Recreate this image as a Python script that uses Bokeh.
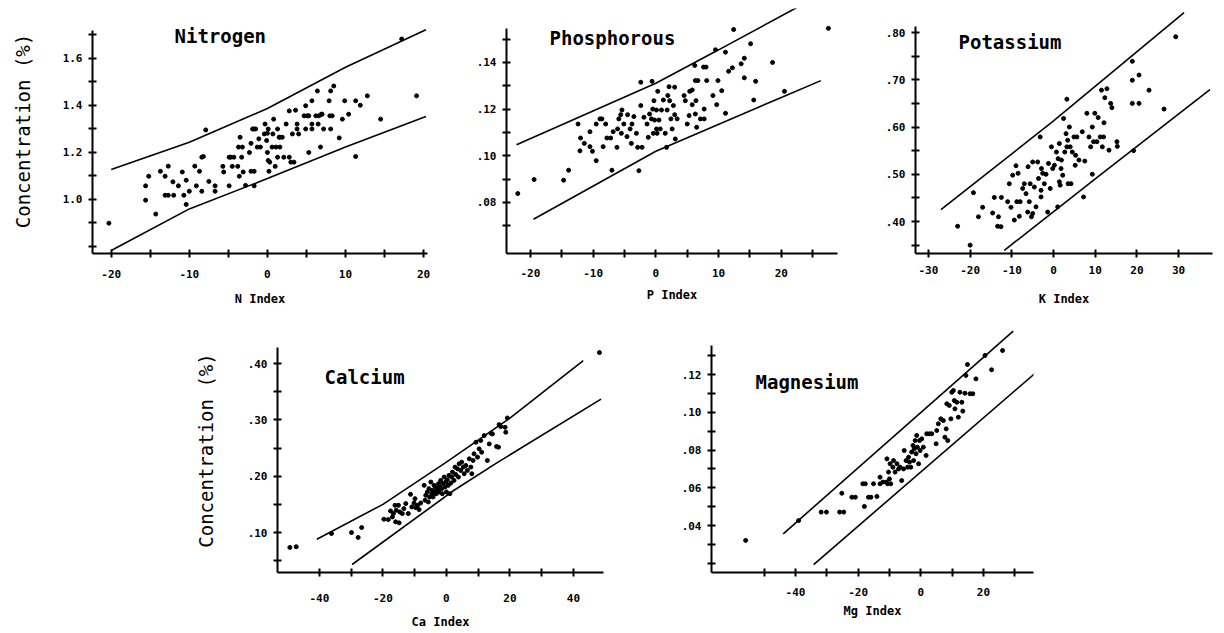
from bokeh.plotting import figure
from bokeh.layouts import row, column
from bokeh.models import FixedTicker, CustomJSTickFormatter, Label, Spacer, Range1d
from bokeh.embed import file_html
from bokeh.resources import INLINE

# ---------------- data ----------------
n_points = [(-20.3,0.899),(-15.6,1.058),(-15.6,0.997),(-15.2,1.099),(-14.3,0.938),(-13.7,1.12),(-13.1,1.018),(-12.7,1.142),(-13.1,1.099),(-12.7,1.018),(-12.1,1.075),(-12.0,1.018),(-11.4,1.058),(-10.9,1.117),(-10.7,1.018),(-10.4,1.082),(-10.4,0.979),(-10.0,1.035),(-9.3,1.142),(-9.1,1.058),(-8.7,1.12),(-8.4,1.18),(-8.2,1.183),(-8.4,1.035),(-7.9,1.296),(-7.5,1.077),(-6.7,1.058),(-6.7,1.035),(-5.7,1.141),(-5.6,1.117),(-4.9,1.18),(-4.7,1.18),(-4.3,1.18),(-4.9,1.058),(-4.5,1.141),(-3.8,1.141),(-3.6,1.099),(-3.5,1.265),(-3.7,1.223),(-3.2,1.223),(-3.3,1.18),(-3.1,1.117),(-2.8,1.06),(-2.3,1.2),(-2.1,1.239),(-1.9,1.3),(-1.7,1.3),(-1.5,1.3),(-2.1,1.12),(-1.7,1.12),(-1.7,1.058),(-1.3,1.223),(-1.1,1.258),(-0.9,1.223),(-0.4,1.279),(-0.3,1.321),(-0.1,1.251),(0.0,1.282),(0.1,1.3),(0.0,1.2),(0.1,1.166),(0.2,1.12),(0.3,1.159),(0.6,1.223),(0.7,1.279),(0.8,1.342),(1.0,1.141),(1.1,1.223),(1.3,1.3),(1.3,1.18),(1.6,1.223),(1.6,1.265),(1.5,1.265),(1.9,1.265),(2.1,1.18),(2.4,1.321),(2.8,1.377),(2.8,1.18),(3.0,1.159),(3.2,1.279),(3.4,1.159),(3.6,1.38),(3.8,1.321),(3.8,1.3),(4.0,1.279),(4.7,1.356),(5.1,1.356),(4.9,1.399),(4.9,1.3),(5.3,1.356),(5.3,1.2),(5.7,1.3),(5.7,1.321),(5.7,1.42),(6.2,1.356),(6.4,1.462),(6.5,1.321),(6.6,1.356),(6.9,1.363),(6.8,1.223),(7.0,1.363),(7.2,1.3),(7.9,1.42),(8.1,1.462),(8.0,1.356),(8.1,1.3),(8.3,1.356),(8.5,1.483),(9.2,1.262),(9.6,1.342),(9.9,1.42),(10.4,1.363),(11.3,1.42),(11.3,1.183),(11.9,1.401),(12.8,1.441),(14.5,1.342),(17.2,1.683),(19.1,1.441)]
n_upper_x = [-20.0, -10.0, 0.0, 10.0, 20.3]
n_upper_y = [1.128, 1.244, 1.387, 1.563, 1.722]
n_lower_x = [-20.0, -10.0, 0.0, 10.0, 20.3]
n_lower_y = [0.783, 0.960, 1.089, 1.223, 1.353]

p_points = [(-22.0,.0838),(-19.4,.0898),(-14.7,.0895),(-13.9,.0938),(-12.4,.1136),(-12.1,.1021),(-12.0,.1076),(-11.4,.1053),(-10.5,.1103),(-10.5,.1039),(-10.1,.1019),(-9.5,.0979),(-9.5,.1136),(-8.9,.1158),(-8.6,.1158),(-8.4,.1039),(-8.0,.1136),(-7.8,.1076),(-7.2,.1076),(-7.0,.0938),(-6.8,.1103),(-6.2,.1036),(-6.1,.1115),(-5.9,.1158),(-5.6,.1176),(-5.5,.1096),(-5.4,.1196),(-5.1,.1136),(-4.6,.1082),(-4.5,.1176),(-4.1,.1115),(-3.9,.1053),(-3.8,.1136),(-3.5,.1168),(-3.1,.1096),(-2.9,.1036),(-2.7,.0936),(-2.4,.1215),(-2.4,.1315),(-2.2,.1036),(-1.9,.1165),(-1.4,.1136),(-1.2,.1079),(-1.0,.1179),(-0.7,.1158),(-0.6,.1319),(-0.5,.120),(-0.4,.1096),(-0.3,.1236),(-0.2,.1153),(0.1,.1196),(0.1,.1115),(0.2,.1096),(0.3,.1276),(0.5,.1153),(0.7,.1115),(0.9,.1196),(1.2,.1239),(1.5,.1096),(1.7,.1036),(1.8,.1196),(1.9,.1258),(2.1,.1296),(2.2,.1236),(2.4,.1158),(2.6,.1115),(2.8,.1215),(3.0,.1294),(3.0,.1176),(3.1,.1072),(3.4,.1158),(4.5,.1258),(4.7,.1236),(5.0,.1136),(5.3,.1172),(5.4,.1276),(5.8,.1282),(5.8,.1219),(6.2,.1387),(6.3,.1322),(6.3,.1179),(6.4,.1236),(6.5,.1122),(6.7,.1322),(7.1,.1158),(7.6,.138),(8.0,.138),(7.7,.1200),(7.7,.1158),(8.1,.1322),(9.1,.1258),(9.5,.1454),(9.7,.1219),(9.9,.1322),(10.5,.1279),(11.1,.1444),(11.1,.1182),(11.6,.1362),(12.2,.1377),(12.4,.1541),(13.6,.1394),(14.1,.1418),(14.1,.1334),(15.1,.148),(15.6,.1239),(15.9,.1319),(18.6,.14),(20.5,.1276),(27.5,.1546)]
p_upper_x = [-22.2, 0.0, 10.0, 22.8]
p_upper_y = [0.1047, 0.1311, 0.1454, 0.1640]
p_lower_x = [-19.5, 0.0, 20.0, 26.3]
p_lower_y = [0.0728, 0.1019, 0.1250, 0.1322]

k_points = [(-23.0,.390),(-20.0,.350),(-19.2,.461),(-18.0,.410),(-17.0,.430),(-14.6,.418),(-14.2,.451),(-13.2,.410),(-13.4,.390),(-12.6,.389),(-12.5,.451),(-11.0,.442),(-10.6,.480),(-10.2,.430),(-9.8,.498),(-9.4,.403),(-9.0,.518),(-8.8,.442),(-8.5,.502),(-8.2,.411),(-8.0,.442),(-7.4,.470),(-7.0,.480),(-6.6,.459),(-6.2,.420),(-6.1,.516),(-5.8,.442),(-5.6,.480),(-5.3,.410),(-5.0,.417),(-5.0,.526),(-4.6,.473),(-4.2,.431),(-3.8,.526),(-3.6,.491),(-3.2,.579),(-3.0,.466),(-3.0,.452),(-2.9,.512),(-2.6,.502),(-2.2,.480),(-1.8,.500),(-1.4,.420),(-1.2,.523),(-0.8,.470),(-0.5,.558),(-0.2,.512),(0.2,.519),(0.7,.547),(1.0,.431),(1.1,.533),(1.4,.565),(1.4,.484),(1.6,.477),(1.8,.512),(1.9,.530),(2.2,.498),(2.4,.618),(2.7,.547),(3.0,.586),(3.2,.659),(3.2,.558),(3.4,.572),(3.5,.480),(3.8,.600),(4.0,.558),(4.2,.480),(4.5,.547),(4.9,.579),(5.2,.519),(5.3,.540),(5.6,.579),(6.1,.530),(6.9,.590),(7.2,.452),(7.5,.528),(8.0,.629),(8.5,.579),(8.9,.558),(9.3,.600),(9.3,.500),(9.6,.569),(9.9,.629),(10.4,.569),(10.7,.620),(11.2,.579),(11.5,.678),(11.7,.558),(12.0,.579),(12.1,.609),(12.3,.662),(12.8,.681),(13.3,.551),(13.7,.650),(14.0,.641),(15.2,.569),(15.3,.559),(18.9,.739),(18.9,.699),(18.9,.650),(19.2,.550),(20.5,.710),(20.5,.650),(22.9,.678),(26.5,.638),(29.3,.791)]
k_upper_x = [-27.0, 0.0, 31.3]
k_upper_y = [0.425, 0.613, 0.842]
k_lower_x = [-11.8, 10.0, 37.5]
k_lower_y = [0.339, 0.490, 0.679]

ca_points = [(-49.3,.0735),(-47.3,.0747),(-36.2,.0982),(-29.9,.1),(-27.8,.0912),(-26.7,.1088),(-19.7,.1236),(-18.3,.123),(-17.6,.1383),(-17.0,.1277),(-16.7,.1336),(-16.2,.1483),(-16.0,.1189),(-15.8,.1395),(-15.1,.1483),(-14.9,.1171),(-14.7,.1365),(-13.9,.1336),(-13.4,.1424),(-12.8,.1513),(-12.0,.1336),(-11.3,.1678),(-10.9,.1454),(-10.2,.1524),(-9.9,.1601),(-9.7,.1442),(-9.1,.1483),(-8.6,.1407),(-8.1,.1524),(-7.0,.1837),(-6.7,.1572),(-6.5,.166),(-6.0,.1719),(-5.7,.1542),(-5.5,.1778),(-5.3,.1631),(-4.9,.1896),(-4.6,.1689),(-4.4,.1748),(-4.2,.1631),(-3.9,.1837),(-3.6,.1719),(-3.4,.1807),(-3.2,.1689),(-2.8,.176),(-2.5,.1866),(-2.3,.1719),(-2.1,.1807),(-1.8,.1925),(-1.5,.1778),(-1.3,.1689),(-1.1,.1866),(-0.7,.1984),(-0.4,.1807),(-0.2,.1896),(0.0,.1719),(0.3,.1937),(0.6,.1837),(0.8,.2014),(1.1,.1689),(1.4,.1878),(1.7,.1984),(1.9,.2072),(2.4,.1925),(2.7,.2161),(2.9,.2031),(3.5,.2131),(3.8,.1984),(4.0,.222),(4.5,.2102),(4.8,.2249),(5.3,.2161),(5.6,.2043),(6.1,.219),(6.6,.2102),(7.2,.2308),(7.7,.2161),(8.0,.2043),(8.4,.2279),(8.7,.2397),(9.3,.2603),(9.8,.2338),(10.3,.2485),(10.8,.2632),(11.1,.2426),(11.9,.2721),(12.9,.2279),(13.5,.2573),(14.0,.2762),(14.5,.275),(15.8,.2526),(16.4,.2515),(16.6,.2915),(17.1,.288),(18.5,.2868),(18.7,.278),(19.2,.3033),(48.2,.4194)]
ca_upper_x = [-40.8, -20.0, 0.0, 20.0, 43.1]
ca_upper_y = [0.088, 0.150, 0.225, 0.303, 0.405]
ca_lower_x = [-29.7, 2.3, 16.0, 48.7]
ca_lower_y = [0.0432, 0.1746, 0.224, 0.3369]

mg_points = [(-55.9,.0321),(-39.0,.0426),(-31.8,.0471),(-30.1,.0471),(-25.9,.0471),(-24.6,.0471),(-25.2,.0571),(-22.0,.055),(-20.9,.055),(-18.5,.0621),(-18.0,.0501),(-17.7,.0621),(-16.7,.055),(-15.9,.055),(-15.1,.0621),(-14.0,.0554),(-13.0,.0656),(-13.0,.0621),(-12.1,.063),(-11.0,.063),(-10.8,.0753),(-10.6,.0621),(-10.3,.0683),(-10.0,.0647),(-9.8,.0727),(-9.6,.0621),(-8.9,.0709),(-8.7,.0744),(-8.2,.0683),(-7.6,.0727),(-7.1,.07),(-6.6,.0709),(-6.1,.0638),(-5.5,.07),(-5.3,.0797),(-4.7,.0744),(-4.2,.0709),(-3.9,.0762),(-3.6,.0736),(-3.2,.0709),(-2.9,.0789),(-2.5,.0824),(-2.3,.0744),(-2.1,.0806),(-1.8,.085),(-1.5,.078),(-1.3,.0877),(-1.1,.0815),(-0.7,.0727),(-0.4,.085),(-0.2,.0797),(0.3,.0859),(0.8,.0815),(1.7,.0771),(1.9,.0886),(2.8,.0886),(3.5,.0886),(4.9,.0833),(5.1,.0903),(5.6,.0939),(6.4,.0965),(7.2,.0956),(7.7,.0868),(8.1,.0912),(8.3,.1045),(8.6,.085),(9.1,.1036),(9.6,.0965),(9.9,.1106),(10.4,.1115),(10.7,.1062),(10.9,.1018),(11.5,.1053),(12.0,.0974),(12.5,.1106),(13.1,.1053),(13.4,.1006),(14.1,.1101),(14.4,.1195),(14.9,.1253),(15.7,.1098),(16.6,.1098),(17.6,.1177),(20.5,.1301),(22.6,.1225),(26.1,.1327)]
mg_upper_x = [-43.9, 29.5]
mg_upper_y = [0.0356, 0.143]
mg_lower_x = [-34.2, 37.5]
mg_lower_y = [0.0193, 0.1221]

MONO = "DejaVu Sans Mono"


def panel(title, xlabel, ylabel, pts, ux, uy, lx, ly,
          fig_w, fig_h, bl, br, bt, bb,
          x0, ppx, y0, ppy, axis_top_px,
          xt, xm, yt, ym, ydec, lead_dot,
          title_x, title_y, lab_standoff_x, axlab_standoff_x, axlab_standoff_y):
    fw = fig_w - bl - br
    fh = fig_h - bt - bb
    xr = Range1d(x0, x0 + fw / ppx)
    yr = Range1d(y0, y0 + fh / ppy)
    p = figure(width=fig_w, height=fig_h, x_range=xr, y_range=yr, title=None,
               min_border_left=bl, min_border_right=br,
               min_border_top=bt, min_border_bottom=bb,
               output_backend="svg", toolbar_location=None)
    p.xgrid.visible = False
    p.ygrid.visible = False
    p.outline_line_color = None
    p.background_fill_color = "white"
    p.border_fill_color = "white"

    xs = [a for a, b in pts]
    ys = [b for a, b in pts]
    p.line(ux, uy, line_color="black", line_width=1.6)
    p.line(lx, ly, line_color="black", line_width=1.6)
    p.scatter(xs, ys, size=4, color="black")

    for ax in (p.xaxis[0], p.yaxis[0]):
        ax.axis_line_color = "black"
        ax.axis_line_width = 2
        ax.major_tick_line_width = 2
        ax.minor_tick_line_width = 2
        ax.major_tick_in = 4
        ax.major_tick_out = 4
        ax.minor_tick_in = 4
        ax.minor_tick_out = 4
        ax.major_label_text_font = MONO
        ax.major_label_text_font_style = "bold"
        ax.major_label_text_font_size = "11px"
        ax.major_label_text_color = "black"
        ax.axis_label_text_color = "black"

    xa = p.xaxis[0]
    xa.ticker = FixedTicker(ticks=xt, minor_ticks=xm)
    xa.formatter = CustomJSTickFormatter(code="return tick.toFixed(0);")
    xa.major_label_standoff = lab_standoff_x
    xa.axis_label = xlabel
    xa.axis_label_text_font = MONO
    xa.axis_label_text_font_style = "bold"
    xa.axis_label_text_font_size = "12px"
    xa.axis_label_standoff = axlab_standoff_x

    ya = p.yaxis[0]
    ya.ticker = FixedTicker(ticks=yt, minor_ticks=ym)
    if lead_dot:
        ya.formatter = CustomJSTickFormatter(code="return tick.toFixed(%d).replace(/^0\\./, '.');" % ydec)
    else:
        ya.formatter = CustomJSTickFormatter(code="return tick.toFixed(%d);" % ydec)
    ya.major_label_standoff = 6
    ya.bounds = (y0, y0 + (fh - (axis_top_px - bt)) / ppy)
    if ylabel:
        ya.axis_label = ylabel
        ya.axis_label_text_font = MONO
        ya.axis_label_text_font_style = "normal"
        ya.axis_label_text_font_size = "19px"
        ya.axis_label_standoff = axlab_standoff_y

    p.add_layout(Label(x=title_x, y=title_y, x_units="screen", y_units="screen",
                       text=title, text_font=MONO, text_font_style="bold",
                       text_font_size="19px", text_baseline="middle", text_color="black"))
    return p


# top row: figure tops at page y 8, frames 8..253 (common borders)
fN = panel("Nitrogen", "N Index", "Concentration (%)", n_points,
           n_upper_x, n_upper_y, n_lower_x, n_lower_y,
           452, 307, 82, 33, 0, 62,
           -22.4, 7.855, 0.7702, 235.0, 22,
           [-20, -10, 0, 10, 20], [-15, -5, 5, 15],
           [1.0, 1.2, 1.4, 1.6], [0.8, 0.9, 1.1, 1.3, 1.5, 1.7], 1, False,
           82, 218, 12, 11, 26)

fP = panel("Phosphorous", "P Index", None, p_points,
           p_upper_x, p_upper_y, p_lower_x, p_lower_y,
           410, 307, 46, 33, 0, 62,
           -23.8, 6.275, 0.0581, 2333.0, 20,
           [-20, -10, 0, 10, 20], [-15, -5, 5, 15, 25],
           [0.08, 0.10, 0.12, 0.14], [0.07, 0.09, 0.11, 0.13, 0.15], 2, True,
           43, 216, 11, 8, 0)

fK = panel("Potassium", "K Index", None, k_points,
           k_upper_x, k_upper_y, k_lower_x, k_lower_y,
           344, 307, 45, 2, 0, 62,
           -33.1, 4.17, 0.3323, 472.5, 18,
           [-30, -20, -10, 0, 10, 20, 30], [],
           [0.40, 0.50, 0.60, 0.70, 0.80], [0.35, 0.45, 0.55, 0.65, 0.75], 2, True,
           43, 212, 8, 15, 0)

# bottom row: figure tops at page y 315, frames 328..572 (common borders)
fCa = panel("Calcium", "Ca Index", "Concentration (%)", ca_points,
            ca_upper_x, ca_upper_y, ca_lower_x, ca_lower_y,
            453, 318, 107, 20, 13, 61,
            -53.2, 3.175, 0.0290, 563.3, 32,
            [-40, -20, 0, 20, 40], [-30, -10, 10, 30],
            [0.10, 0.20, 0.30, 0.40], [0.05, 0.15, 0.25, 0.35], 2, True,
            47, 196, 17, 10, 28)

fMg = panel("Magnesium", "Mg Index", None, mg_points,
            mg_upper_x, mg_upper_y, mg_lower_x, mg_lower_y,
            393, 318, 51, 20, 13, 61,
            -66.8, 3.133, 0.0151, 1887.5, 30,
            [-40, -20, 0, 20], [-50, -30, -10, 10, 30],
            [0.04, 0.06, 0.08, 0.10, 0.12], [0.02, 0.03, 0.05, 0.07, 0.09, 0.11, 0.13], 2, True,
            44, 191, 11, 5, 0)

top = row(fN, fP, fK)
bottom = row(Spacer(width=162, height=318), fCa, Spacer(width=37, height=318), fMg)
inner = column(top, bottom)
layout = column(Spacer(width=1214, height=8), row(Spacer(width=8, height=625), inner))

open("out.html", "w").write(file_html(layout, INLINE))
